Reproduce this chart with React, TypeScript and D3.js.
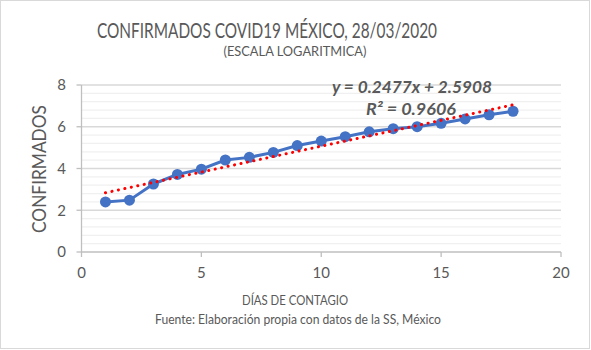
import React from "react";
import * as d3 from "d3";

const days = [1, 2, 3, 4, 5, 6, 7, 8, 9, 10, 11, 12, 13, 14, 15, 16, 17, 18];
const lnConfirmed = [2.398, 2.485, 3.258, 3.714, 3.97, 4.407, 4.533, 4.771, 5.1, 5.313, 5.525, 5.756, 5.905, 6.004, 6.163, 6.372, 6.575, 6.743];
const xTicks = [0, 5, 10, 15, 20];
const yTicks = [0, 2, 4, 6, 8];
const yMinorTicks = [0.4, 0.8, 1.2, 1.6, 2.4, 2.8, 3.2, 3.6, 4.4, 4.8, 5.2, 5.6, 6.4, 6.8, 7.2, 7.6];
const trendSlope = 0.2477;
const trendIntercept = 2.5908;
const rSquared = 0.9606;

const W = 591;
const H = 350;
const FONT = "Lato, 'Open Sans', sans-serif";
const GREY = "#595959";

export default function App() {
  const x = d3.scaleLinear().domain([0, 20]).range([81.5, 561]);
  const y = d3.scaleLinear().domain([0, 8]).range([252, 85]);
  const pts = days.map((d, i) => [d, lnConfirmed[i]] as [number, number]);
  const line = d3
    .line<[number, number]>()
    .x((d) => x(d[0]))
    .y((d) => y(d[1]));
  const tStart = days[0];
  const tEnd = days[days.length - 1];
  const trend: [number, number][] = [
    [tStart, trendSlope * tStart + trendIntercept],
    [tEnd, trendSlope * tEnd + trendIntercept],
  ];

  return (
    <svg
      width={W}
      height={H}
      style={{ position: "fixed", left: 0, top: 0, background: "#fff" }}
      fontFamily={FONT}
    >
      <rect x={0.5} y={0.5} width={W - 2} height={H - 2} fill="#fff" stroke="#d9d9d9" />
      <text x={267} y={38} textAnchor="middle" fontSize={21} fill={GREY} textLength={340} lengthAdjust="spacingAndGlyphs">
        CONFIRMADOS COVID19 MÉXICO, 28/03/2020
      </text>
      <text x={295} y={56} textAnchor="middle" fontSize={13.5} fill={GREY} textLength={143} lengthAdjust="spacingAndGlyphs">
        (ESCALA LOGARITMICA)
      </text>

      {yMinorTicks.map((t) => (
        <line key={"m" + t} x1={x(0)} x2={x(20)} y1={y(t)} y2={y(t)} stroke="#f0f0f0" strokeWidth={1.3} />
      ))}
      {yTicks.filter((t) => t > 0).map((t) => (
        <line key={"g" + t} x1={x(0)} x2={x(20)} y1={y(t)} y2={y(t)} stroke="#d9d9d9" strokeWidth={1.3} />
      ))}

      {/* axes */}
      <line x1={x(0)} x2={x(20)} y1={y(0)} y2={y(0)} stroke="#bfbfbf" strokeWidth={1.3} />
      <line x1={x(0)} x2={x(0)} y1={y(0)} y2={y(8)} stroke="#bfbfbf" strokeWidth={1.3} />
      {yTicks.map((t) => (
        <g key={"yt" + t}>
          <line x1={x(0) - 5} x2={x(0)} y1={y(t)} y2={y(t)} stroke="#bfbfbf" strokeWidth={1.3} />
          <text x={66} y={y(t)} dy="0.35em" textAnchor="end" fontSize={15} fill={GREY}>
            {t}
          </text>
        </g>
      ))}
      {xTicks.map((t) => (
        <g key={"xt" + t}>
          <line x1={x(t)} x2={x(t)} y1={y(0)} y2={y(0) + 5} stroke="#bfbfbf" strokeWidth={1.3} />
          <text x={x(t)} y={273} dy="0.35em" textAnchor="middle" fontSize={15} fill={GREY}>
            {t}
          </text>
        </g>
      ))}

      <text
        transform={`translate(46,169) rotate(-90)`}
        textAnchor="middle"
        fontSize={19}
        fill={GREY}
        textLength={128}
        lengthAdjust="spacingAndGlyphs"
      >
        CONFIRMADOS
      </text>
      <text x={295} y={305} textAnchor="middle" fontSize={13} fill={GREY} textLength={106} lengthAdjust="spacingAndGlyphs">
        DÍAS DE CONTAGIO
      </text>
      <text x={298} y={324} textAnchor="middle" fontSize={13} fill={GREY} textLength={286} lengthAdjust="spacingAndGlyphs">
        Fuente: Elaboración propia con datos de la SS, México
      </text>

      {/* data */}
      <path d={line(pts) || ""} fill="none" stroke="#4472C4" strokeWidth={3} strokeLinejoin="round" />
      {pts.map((p, i) => (
        <circle key={"c" + i} cx={x(p[0])} cy={y(p[1])} r={5.5} fill="#4472C4" />
      ))}

      {/* trendline */}
      <path
        d={line(trend) || ""}
        fill="none"
        stroke="#ff0000"
        strokeWidth={3}
        strokeDasharray="0.1 6.5"
        strokeLinecap="round"
      />

      <text x={412} y={92.5} textAnchor="middle" fontSize={17} fontWeight="bold" fontStyle="italic" fill={GREY} textLength={160} lengthAdjust="spacingAndGlyphs">
        y = {trendSlope}x + {trendIntercept}
      </text>
      <text x={411} y={114.5} textAnchor="middle" fontSize={17} fontWeight="bold" fontStyle="italic" fill={GREY} textLength={90} lengthAdjust="spacingAndGlyphs">
        R² = {rSquared}
      </text>
    </svg>
  );
}
